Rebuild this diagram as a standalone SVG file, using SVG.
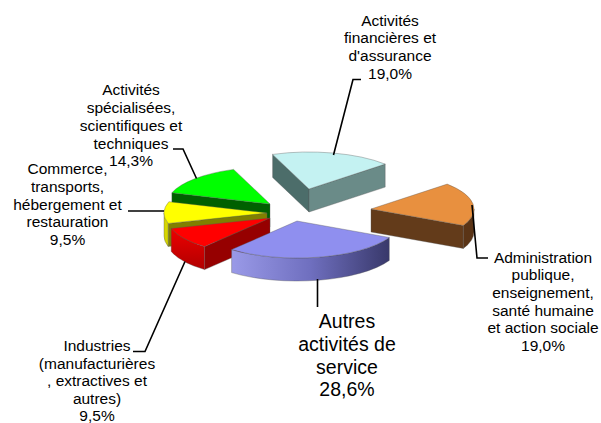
<svg xmlns="http://www.w3.org/2000/svg" width="601" height="423" viewBox="0 0 601 423">
<style>
.lbl{font-family:"Liberation Sans",Arial,sans-serif;font-size:15.5px;fill:#000;text-anchor:middle}
.big{font-family:"Liberation Sans",Arial,sans-serif;font-size:19.5px;fill:#000;text-anchor:middle}
.edge{stroke:#555;stroke-width:0.6;stroke-opacity:0.6;stroke-linejoin:round}
.lead{fill:none;stroke:#000;stroke-width:1.6}
</style>
<defs>
<linearGradient id="gBlue" gradientUnits="userSpaceOnUse" x1="231" y1="0" x2="390" y2="0">
<stop offset="0" stop-color="#9a9ae8"/>
<stop offset="0.5" stop-color="#6f6fbf"/>
<stop offset="1" stop-color="#38386a"/>
</linearGradient>
<linearGradient id="gRed" gradientUnits="userSpaceOnUse" x1="0" y1="228" x2="0" y2="270">
<stop offset="0" stop-color="#ee0000"/>
<stop offset="1" stop-color="#b00000"/>
</linearGradient>
</defs>
<rect width="601" height="423" fill="#fff"/>

<g id="slice-financieres">
<path class="edge" fill="#4c6d6a" d="M309,189 L272.6,154.4 L272.6,177.4 L309,212 Z"/>
<path class="edge" fill="#6a8b88" d="M309,189 L385.2,164.1 L385.2,187.1 L309,212 Z"/>
<path class="edge" fill="#c4f2f2" d="M309,189 L272.6,154.4 A103,37 0 0 1 385.2,164.1 Z"/>
<text class="lbl" x="390"><tspan x="390" y="25.5">Activités</tspan><tspan x="390" y="43.3">financières et</tspan><tspan x="390" y="61.1">d'assurance</tspan><tspan x="390" y="78.9">19,0%</tspan></text>
</g>

<g id="slice-specialisees">
<path class="edge" fill="#006000" d="M270,204 L171.9,192.7 L171.9,215.7 L270,227 Z"/>
<path class="edge" fill="#00ff00" d="M270,204 L171.9,192.7 A103,37 0 0 1 233.6,169.4 Z"/>
<text class="lbl" x="131"><tspan x="131" y="95.2">Activités</tspan><tspan x="131" y="113">spécialisées,</tspan><tspan x="131" y="130.8">scientifiques et</tspan><tspan x="131" y="148.6">techniques</tspan><tspan x="131" y="166.4">14,3%</tspan></text>
</g>

<g id="slice-commerce">
<path class="edge" fill="#808000" d="M267,213 L168.2,223.45 L168.2,246.45 L267,236 Z"/>
<path class="edge" fill="#d6d600" d="M168.2,223.45 A103,37 0 0 1 164,213 L164,236 A103,37 0 0 0 168.2,246.45 Z"/>
<path class="edge" fill="#ffff00" d="M267,213 L168.2,223.45 A103,37 0 0 1 168.9,201.7 Z"/>
<text class="lbl" x="67.5"><tspan x="67.5" y="174.3">Commerce,</tspan><tspan x="67.5" y="192">transports,</tspan><tspan x="67.5" y="209.6">hébergement et</tspan><tspan x="67.5" y="227.3">restauration</tspan><tspan x="67.5" y="245">9,5%</tspan></text>
</g>

<g id="slice-industries">
<path class="edge" fill="#960000" d="M270,218 L204.6,246.6 L204.6,269.6 L270,241 Z"/>
<path class="edge" fill="url(#gRed)" d="M204.6,246.6 A103,37 0 0 1 171.2,228.45 L171.2,251.45 A103,37 0 0 0 204.6,269.6 Z"/>
<path class="edge" fill="#ff0000" d="M270,218 L204.6,246.6 A103,37 0 0 1 171.2,228.45 Z"/>
<text class="lbl" x="97"><tspan x="97" y="351">Industries</tspan><tspan x="97" y="368.6">(manufacturières</tspan><tspan x="97" y="386.2">, extractives et</tspan><tspan x="97" y="403.8">autres)</tspan><tspan x="97" y="421.4">9,5%</tspan></text>
</g>

<g id="slice-administration">
<path class="edge" fill="#633b1a" d="M371,209 L463.3,225.45 L463.3,248.45 L371,232 Z"/>
<path class="edge" fill="#5a3416" d="M474,209 A103,37 0 0 1 463.3,225.45 L463.3,248.45 A103,37 0 0 0 474,232 Z"/>
<path class="edge" fill="#e8903f" d="M371,209 L447.2,184.1 A103,37 0 0 1 463.3,225.45 Z"/>
<text class="lbl" x="543"><tspan x="543" y="262.7">Administration</tspan><tspan x="543" y="280.3">publique,</tspan><tspan x="543" y="297.9">enseignement,</tspan><tspan x="543" y="315.5">santé humaine</tspan><tspan x="543" y="333.1">et action sociale</tspan><tspan x="543" y="350.7">19,0%</tspan></text>
</g>

<g id="slice-autres">
<path class="edge" fill="url(#gBlue)" d="M389.3,237.45 A103,37 0 0 1 231.6,249.6 L231.6,272.6 A103,37 0 0 0 389.3,260.45 Z"/>
<path class="edge" fill="#8f8fef" d="M297,221 L389.3,237.45 A103,37 0 0 1 231.6,249.6 Z"/>
<text class="big" x="347"><tspan x="347" y="328.3">Autres</tspan><tspan x="347" y="351">activités de</tspan><tspan x="347" y="373.7">service</tspan><tspan x="347" y="396.4">28,6%</tspan></text>
</g>

<g id="connectors">
<polyline class="lead" points="361,79.5 353,79.5 333.5,155"/>
<polyline class="lead" points="173,149 183,149 196.5,178.5"/>
<polyline class="lead" points="128,211 164,211"/>
<polyline class="lead" points="133,351.5 145,351.5 185,261.5"/>
<polyline class="lead" points="472,205 477,258 488,258"/>
<polyline class="lead" points="317.5,279 317.5,307"/>
</g>
</svg>
